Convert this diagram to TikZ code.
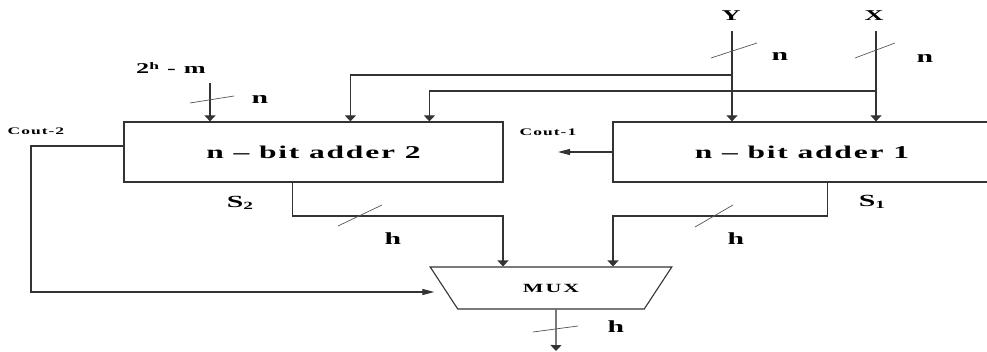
\documentclass[tikz,border=0pt]{standalone}
\usepackage{fontspec}
\setmainfont{Liberation Serif}
\newfontfamily\widefont{Liberation Serif}[FakeStretch=1.75, LetterSpace=10]
\usetikzlibrary{
  shapes.geometric,
  arrows.meta,
  positioning,
  calc
}
\definecolor{wiregray}{HTML}{333333}
\definecolor{slashgray}{HTML}{555555}

\begin{document}
\begin{tikzpicture}[
    x=1pt, y=-1pt,
    every node/.style={font=\widefont\bfseries, text=black, inner sep=0pt},
    adderbox/.style={rectangle, draw=wiregray, line width=1.2pt,
                     minimum height=60pt, align=center, font=\widefont\bfseries\fontsize{18}{20}\selectfont},
    muxbox/.style={trapezium, draw=wiregray, line width=1.1pt,
                   trapezium left angle=135, trapezium right angle=135,
                   trapezium stretches=true, minimum width=242pt, minimum height=42pt,
                   font=\widefont\bfseries\fontsize{12.5}{14}\selectfont\addfontfeatures{LetterSpace=16}},
    wire/.style={line width=1.2pt, wiregray},
    varrow/.style={wire, -{Triangle[length=6pt, width=11pt]}},
    harrow/.style={wire, -{Triangle[length=12pt, width=6pt]}},
    buswidth/.style={line width=0.7pt, slashgray},
    lbl/.style={font=\widefont\bfseries\fontsize{17}{20}\selectfont},
    small/.style={font=\widefont\bfseries\fontsize{15}{16}\selectfont},
    tiny/.style={font=\widefont\bfseries\fontsize{10}{12}\selectfont},
]
\useasboundingbox (0,0) rectangle (987,352);

% --- Adders and MUX ---
\node[adderbox, minimum width=379pt] (add2) at (313.5,152) {n – bit adder 2};
\node[adderbox, minimum width=378pt] (add1) at (802,152) {n – bit adder 1};
\node[muxbox] (mux) at (551,288) {MUX};

% --- Inputs ---
\node[small] (Y) at (731,16) {Y};
\node[small] (X) at (874,16) {X};
\node[small] (cst) at (171,68) {2\raisebox{0.6ex}{\fontsize{10}{10}\selectfont h} - m};
\coordinate (ytop) at (732,31);
\coordinate (xtop) at (876,31);
\coordinate (mtop) at (210,83);
\coordinate (yb) at (732,75);
\coordinate (xb) at (876,91);

\draw[varrow] (ytop) -- (ytop |- add1.north);
\draw[varrow] (xtop) -- (xtop |- add1.north);
\draw[varrow] (yb) -| ([xshift=227pt]add2.north west);
\draw[varrow] (xb) -| ([xshift=306pt]add2.north west);
\draw[varrow] (mtop) -- (mtop |- add2.north);

% --- Bus widths on inputs ---
\draw[buswidth] (711,58) -- (757,43);
\node[lbl] (ny) at (780,56) {n};
\draw[buswidth] (855,58) -- (895,43);
\node[lbl] (nx) at (925,58) {n};
\draw[buswidth] (190,103) -- (234,96);
\node[lbl] (nm) at (260,99) {n};

% --- Carries ---
\node[tiny] (cout2) at (36,131) {Cout-2};
\node[tiny] (cout1) at (548,132) {Cout-1};
\coordinate (cl) at (31,146);
\coordinate (c1) at (558,152);
\draw[harrow] ([yshift=6pt]add2.west) -- (cl) |- ([xshift=-9pt,yshift=-4pt]mux.west);
\draw[harrow] (add1.west) -- (c1);

% --- Sums into MUX ---
\coordinate (s2c) at (503,216);
\coordinate (s1c) at (613,216);
\draw[varrow] ([xshift=169pt]add2.south west) |- (s2c) -- (s2c |- mux.north);
\draw[varrow] ([xshift=215pt]add1.south west) |- (s1c) -- (s1c |- mux.north);
\node[lbl] (s2) at (240,203) {S\raisebox{-0.3ex}{\fontsize{11}{12}\selectfont 2}};
\node[lbl] (s1) at (872,202) {S\raisebox{-0.3ex}{\fontsize{11}{12}\selectfont 1}};
\draw[buswidth] (338,226) -- (382,205);
\node[lbl] (h2) at (393,239) {h};
\draw[buswidth] (695,227) -- (733,205);
\node[lbl] (h1) at (736,239) {h};

% --- Output ---
\coordinate (out) at (556,351);
\draw[varrow] ([xshift=5pt]mux.south) -- (out);
\draw[buswidth] (533,332) -- (578,326);
\node[lbl] (ho) at (616,327) {h};

\end{tikzpicture}
\end{document}
